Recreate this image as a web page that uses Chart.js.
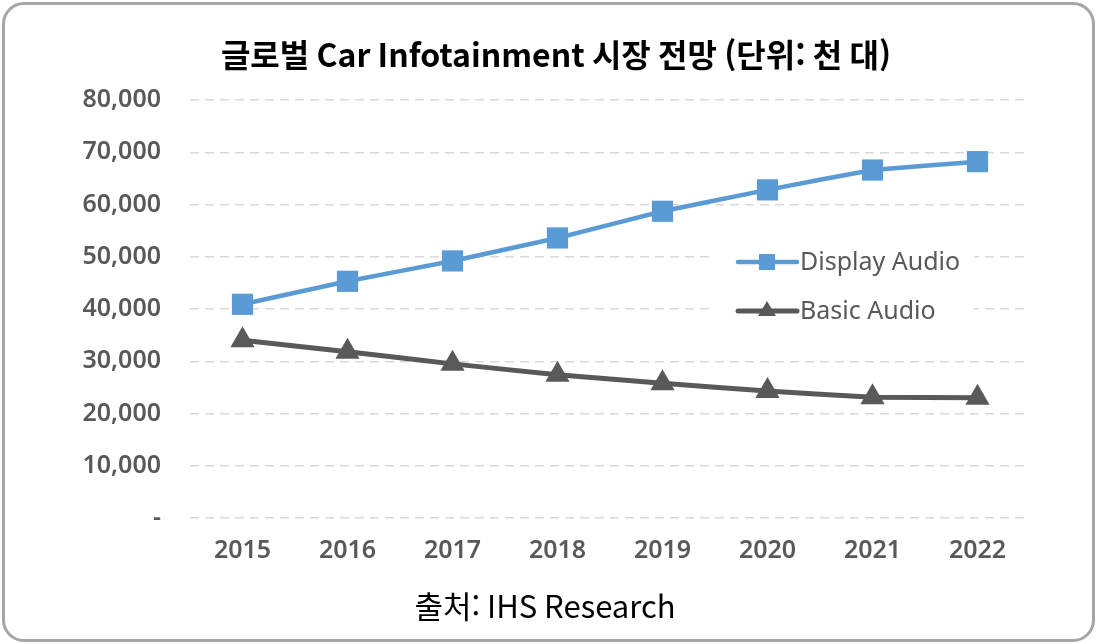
<!DOCTYPE html>
<html lang="ko">
<head>
<meta charset="utf-8">
<title>글로벌 Car Infotainment 시장 전망</title>
<script src="https://cdn.jsdelivr.net/npm/chart.js@4.4.1/dist/chart.umd.min.js"></script>
<style>
    html, body { margin: 0; padding: 0; background: #fff; }
    .frame { position: relative; width: 1097px; height: 644px; overflow: hidden; }
    .frame canvas { position: absolute; left: 0; top: 0; }
    .frame .border {
        position: absolute; left: 2px; top: 2px; right: 2px; bottom: 2px;
        border: 3px solid #a6a6a6; border-radius: 22px; pointer-events: none;
    }
</style>
</head>
<body>
<div class="frame">
    <canvas id="infotainmentChart" width="1097" height="644"></canvas>
    <div class="border"></div>
</div>
<script>
// chart data (천 대)
const years = ['2015', '2016', '2017', '2018', '2019', '2020', '2021', '2022'];
const displayAudio = [40900, 45300, 49200, 53600, 58700, 62800, 66600, 68200];
const basicAudio = [34000, 31800, 29500, 27400, 25800, 24300, 23100, 23000];
const yTicks = [0, 10000, 20000, 30000, 40000, 50000, 60000, 70000, 80000];

const titleText = '글로벌 Car Infotainment 시장 전망 (단위: 천 대)';
const sourceText = '출처: IHS Research';

const blue = '#5b9bd5';
const gray = '#595959';
const uiFont = '"Noto Sans", sans-serif';
const krFont = '"Noto Sans CJK KR", "Noto Sans", sans-serif';

// title, source line and the in-plot legend
const decorations = {
    id: 'decorations',
    afterDraw(chart) {
        const ctx = chart.ctx;
        const area = chart.chartArea;
        ctx.save();

        ctx.fillStyle = '#000';
        ctx.textAlign = 'center';
        ctx.textBaseline = 'middle';
        ctx.font = 'bold 32px ' + krFont;
        ctx.fillText(titleText, 556, 55);
        ctx.font = '31px ' + krFont;
        ctx.fillText(sourceText, 545, 606);

        // legend box sits over the gridlines
        const lx = area.left + 548;
        const ly = area.top + 162;
        ctx.fillStyle = '#fff';
        ctx.fillRect(lx - 26, ly - 26, 262, 100);

        chart.data.datasets.forEach((ds, i) => {
            const y = ly + i * 49;
            ctx.strokeStyle = ds.borderColor;
            ctx.lineWidth = ds.borderWidth;
            ctx.lineCap = 'round';
            ctx.beginPath();
            ctx.moveTo(lx, y);
            ctx.lineTo(lx + 59, y);
            ctx.stroke();
            ctx.fillStyle = ds.borderColor;
            const cx = lx + 29;
            if (ds.pointStyle === 'rect') {
                ctx.fillRect(cx - 8, y - 8, 16, 16);
            } else {
                ctx.beginPath();
                ctx.moveTo(cx, y - 10);
                ctx.lineTo(cx + 9, y + 5);
                ctx.lineTo(cx - 9, y + 5);
                ctx.closePath();
                ctx.fill();
            }
            ctx.fillStyle = gray;
            ctx.textAlign = 'left';
            ctx.font = '25px ' + uiFont;
            ctx.fillText(ds.label, lx + 62, y + 1);
        });
        ctx.restore();
    }
};

new Chart(document.getElementById('infotainmentChart').getContext('2d'), {
    type: 'line',
    data: {
        labels: years,
        datasets: [{
            label: 'Display Audio',
            data: displayAudio,
            borderColor: blue,
            backgroundColor: blue,
            borderWidth: 4.5,
            pointStyle: 'rect',
            pointRadius: 15,
            pointBorderWidth: 0,
            tension: 0.05,
            fill: false
        }, {
            label: 'Basic Audio',
            data: basicAudio,
            borderColor: gray,
            backgroundColor: gray,
            borderWidth: 5,
            pointStyle: 'triangle',
            pointRadius: 14,
            pointBorderWidth: 0,
            tension: 0.05,
            fill: false
        }]
    },
    options: {
        responsive: false,
        animation: false,
        layout: { padding: { top: 100, left: 0, right: 67, bottom: 66 } },
        plugins: {
            legend: { display: false },
            title: { display: false },
            tooltip: { enabled: false }
        },
        scales: {
            x: {
                offset: true,
                grid: { display: false },
                border: { display: false },
                ticks: { color: gray, padding: 10, font: { family: uiFont, size: 25, weight: '600' } },
                afterFit(scale) { scale.height = 60; }
            },
            y: {
                min: 0,
                max: 80000,
                afterBuildTicks(scale) { scale.ticks = yTicks.map(v => ({ value: v })); },
                grid: { color: '#d9d9d9', lineWidth: 1.5, drawTicks: false },
                border: { display: false, dash: [9, 6] },
                ticks: {
                    color: gray,
                    padding: 29,
                    font: { family: uiFont, size: 25, weight: '600' },
                    callback: value => value === 0 ? '-' : value.toLocaleString('en-US')
                },
                afterFit(scale) { scale.width = 190; }
            }
        }
    },
    plugins: [decorations]
});
</script>
</body>
</html>
